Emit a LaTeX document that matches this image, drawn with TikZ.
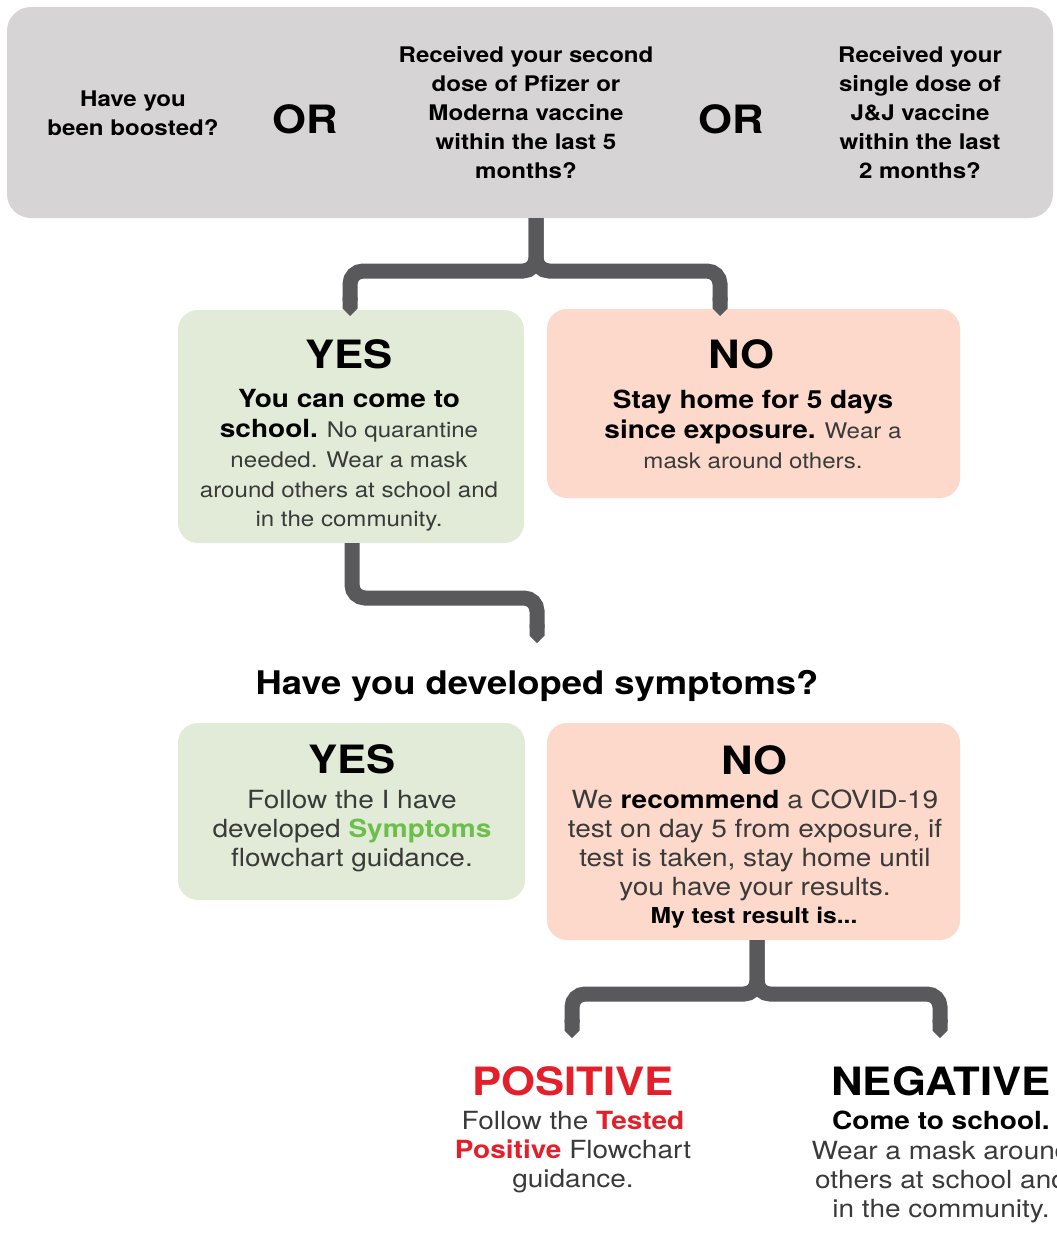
\documentclass[tikz,border=0pt]{standalone}
\usepackage{fontspec}
\setmainfont{TeX Gyre Heros}[FakeStretch=1.12]
\usetikzlibrary{arrows.meta}
\definecolor{boxgray}{HTML}{D6D4D5}
\definecolor{boxgreen}{HTML}{E2EBD7}
\definecolor{boxpeach}{HTML}{FCD9CA}
\definecolor{conncol}{HTML}{59595B}
\definecolor{txtgray}{HTML}{3A3A3A}
\definecolor{symgreen}{HTML}{6BBF4A}
\definecolor{posred}{HTML}{E51F2A}
\newcommand\bk[1]{{\bfseries\color{black}#1}}
\newcommand\bgr[1]{{\bfseries\color{symgreen}#1}}
\newcommand\brd[1]{{\bfseries\color{posred}#1}}
\tikzset{
  conn/.style={line width=15pt, draw=conncol, rounded corners=13pt, -{Triangle Cap}},
  panel/.style={rectangle, rounded corners=20pt, inner sep=0pt, draw=none},
  ln/.style={anchor=base, inner sep=0pt, outer sep=0pt},
  qtext/.style={ln, font=\bfseries\fontsize{21.5}{26}\selectfont, text=black},
  ortext/.style={ln, font=\bfseries\fontsize{39}{44}\selectfont, text=black},
  head/.style={ln, font=\bfseries\fontsize{39}{44}\selectfont, text=black},
  bodyS/.style={ln, font=\fontsize{21.5}{26}\selectfont, text=txtgray},
  boldS/.style={ln, font=\bfseries\fontsize{25}{30}\selectfont, text=black},
  bodyL/.style={ln, font=\fontsize{25}{30}\selectfont, text=txtgray},
  boldL/.style={ln, font=\bfseries\fontsize{25}{30}\selectfont, text=black},
  small/.style={ln, font=\bfseries\fontsize{22}{26}\selectfont, text=black},
  quest/.style={ln, font=\bfseries\fontsize{32.5}{38}\selectfont, text=black},
}
\begin{document}
\begin{tikzpicture}[x=1pt,y=-1pt]
\useasboundingbox[fill=white] (0,0) rectangle (1057,1242);

% panels
\node[panel, fill=boxgray, minimum width=1046pt, minimum height=211pt, rounded corners=24pt] (q) at (530,112.5) {};
\node[panel, fill=boxgreen, minimum width=346pt, minimum height=233pt] (yes1) at (351,426.5) {};
\node[panel, fill=boxpeach, minimum width=413pt, minimum height=189pt] (no1) at (753.5,403.5) {};
\node[panel, fill=boxgreen, minimum width=347pt, minimum height=177pt] (yes2) at (351.5,811.5) {};
\node[panel, fill=boxpeach, minimum width=413pt, minimum height=217pt] (no2) at (753.5,831.5) {};

% top question texts
\node[qtext] (qa1) at (133,106) {Have you};
\node[qtext] (qa2) at (133,135) {been boosted?};
\node[ortext] (or1) at (305,133) {OR};
\node[qtext] (qb1) at (526,62) {Received your second};
\node[qtext] (qb2) at (526,91) {dose of Pfizer or};
\node[qtext] (qb3) at (526,120) {Moderna vaccine};
\node[qtext] (qb4) at (526,149) {within the last 5};
\node[qtext] (qb5) at (526,178) {months?};
\node[ortext] (or2) at (731.5,133) {OR};
\node[qtext] (qc1) at (920,62) {Received your};
\node[qtext] (qc2) at (920,91) {single dose of};
\node[qtext] (qc3) at (920,120) {J\&J vaccine};
\node[qtext] (qc4) at (920,149) {within the last};
\node[qtext] (qc5) at (920,178) {2 months?};

% YES 1
\node[head] (y1h) at (349,368) {YES};
\node[boldS] (y1a) at (349,407) {You can come to};
\node[bodyS] (y1b) at (349,437) {\bk{\fontsize{25}{30}\selectfont school.} No quarantine};
\node[bodyS] (y1c) at (349,467) {needed. Wear a mask};
\node[bodyS] (y1d) at (349,497) {around others at school and};
\node[bodyS] (y1e) at (349,526) {in the community.};

% NO 1
\node[head] (n1h) at (741,368) {NO};
\node[boldS] (n1a) at (753,408) {Stay home for 5 days};
\node[bodyS] (n1b) at (753,438) {\bk{\fontsize{25}{30}\selectfont since exposure.} Wear a};
\node[bodyS] (n1c) at (753,468) {mask around others.};

% question
\node[quest] (sym) at (537,694) {Have you developed symptoms?};

% YES 2
\node[head] (y2h) at (352,773) {YES};
\node[bodyL] (y2a) at (352,808) {Follow the I have};
\node[bodyL] (y2b) at (352,837) {developed \bgr{Symptoms}};
\node[bodyL] (y2c) at (352,866) {flowchart guidance.};

% NO 2
\node[head] (n2h) at (754,774) {NO};
\node[bodyL] (n2a) at (755,808) {We \bk{recommend} a COVID-19};
\node[bodyL] (n2b) at (755,837) {test on day 5 from exposure, if};
\node[bodyL] (n2c) at (755,866) {test is taken, stay home until};
\node[bodyL] (n2d) at (755,895) {you have your results.};
\node[small] (n2e) at (754,923) {My test result is...};

% POSITIVE
\node[head, text=posred] (ph) at (573,1095) {POSITIVE};
\node[bodyL] (pa) at (573,1129) {Follow the \brd{Tested}};
\node[bodyL] (pb) at (573,1158) {\brd{Positive} Flowchart};
\node[bodyL] (pc) at (573,1187) {guidance.};

% NEGATIVE
\node[head] (gh) at (941,1095) {NEGATIVE};
\node[boldL] (ga) at (941,1129) {Come to school.};
\node[bodyL] (gb) at (941,1159) {Wear a mask around};
\node[bodyL] (gc) at (941,1188) {others at school and};
\node[bodyL] (gd) at (941,1217) {in the community.};

% connectors
\coordinate (j1) at (536,271);
\coordinate (e1a) at (350,316);
\coordinate (e1b) at (720,316);
\draw[conn] (q.south -| j1) -- (j1) -| (e1a);
\draw[conn] (q.south -| j1) -- (j1) -| (e1b);

\coordinate (m1) at (352,598);
\coordinate (e2) at (537,643);
\draw[conn] (yes1.south -| m1) -- (m1) -| (e2);

\coordinate (j3) at (757,994);
\coordinate (e3a) at (572,1038);
\coordinate (e3b) at (940,1038);
\draw[conn] (no2.south -| j3) -- (j3) -| (e3a);
\draw[conn] (no2.south -| j3) -- (j3) -| (e3b);
\end{tikzpicture}
\end{document}
